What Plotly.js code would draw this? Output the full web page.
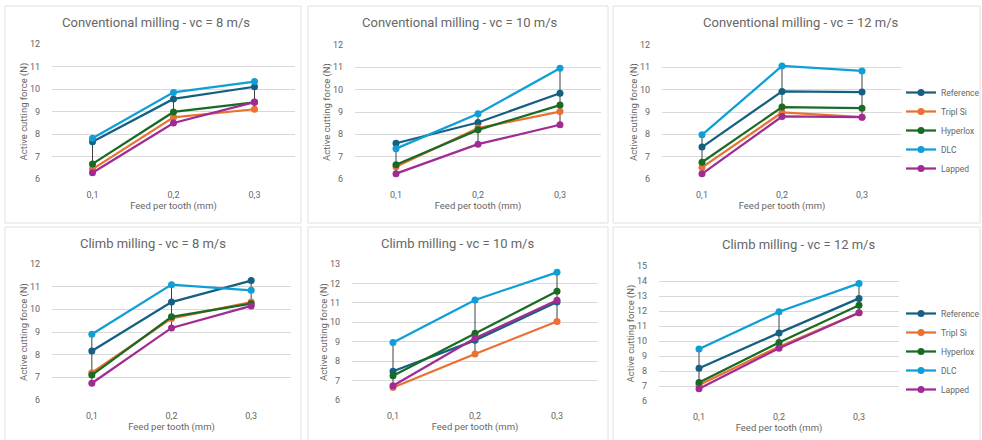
<!DOCTYPE html>
<html>
<head>
<meta charset="utf-8">
<script src="https://cdn.plot.ly/plotly-3.0.1.min.js"></script>
<style>
html,body{margin:0;padding:0;background:#fff;}
#chart{width:982px;height:440px;}
</style>
</head>
<body>
<div id="chart"></div>
<script>
// ---------- DATA ----------
const categories = ['0,1', '0,2', '0,3'];
const seriesNames = ['Reference', 'Tripl Si', 'Hyperlox', 'DLC', 'Lapped'];
const panelTitles = [
  'Conventional milling - vc = 8 m/s',
  'Conventional milling - vc = 10 m/s',
  'Conventional milling - vc = 12 m/s',
  'Climb milling - vc = 8 m/s',
  'Climb milling - vc = 10 m/s',
  'Climb milling - vc = 12 m/s'
];

// Conventional milling, vc = 8 m/s
const conv8_ref    = [7.66, 9.56, 10.10];
const conv8_tripl  = [6.44, 8.74, 9.10];
const conv8_hyper  = [6.67, 8.98, 9.41];
const conv8_dlc    = [7.81, 9.85, 10.33];
const conv8_lapped = [6.28, 8.49, 9.42];

// Conventional milling, vc = 10 m/s
const conv10_ref    = [7.60, 8.53, 9.84];
const conv10_tripl  = [6.55, 8.28, 9.02];
const conv10_hyper  = [6.64, 8.20, 9.31];
const conv10_dlc    = [7.36, 8.92, 10.96];
const conv10_lapped = [6.24, 7.56, 8.43];

// Conventional milling, vc = 12 m/s
const conv12_ref    = [7.43, 9.92, 9.89];
const conv12_tripl  = [6.52, 8.98, 8.77];
const conv12_hyper  = [6.75, 9.22, 9.17];
const conv12_dlc    = [7.98, 11.06, 10.84];
const conv12_lapped = [6.23, 8.80, 8.77];

// Climb milling, vc = 8 m/s
const climb8_ref    = [8.16, 10.32, 11.27];
const climb8_tripl  = [7.20, 9.60, 10.32];
const climb8_hyper  = [7.10, 9.67, 10.25];
const climb8_dlc    = [8.90, 11.09, 10.84];
const climb8_lapped = [6.74, 9.18, 10.15];

// Climb milling, vc = 10 m/s
const climb10_ref    = [7.48, 9.07, 11.04];
const climb10_tripl  = [6.64, 8.37, 10.04];
const climb10_hyper  = [7.25, 9.43, 11.60];
const climb10_dlc    = [8.96, 11.15, 12.57];
const climb10_lapped = [6.73, 9.18, 11.13];

// Climb milling, vc = 12 m/s
const climb12_ref    = [8.18, 10.54, 12.84];
const climb12_tripl  = [7.07, 9.62, 11.88];
const climb12_hyper  = [7.24, 9.90, 12.39];
const climb12_dlc    = [9.46, 11.95, 13.84];
const climb12_lapped = [6.82, 9.52, 11.88];

const yMaxima = [12, 12, 12, 12, 13, 15];

// ---------- STYLE / LAYOUT ----------
const W = 982, H = 440;
const colors = ['#156082', '#E97132', '#196B24', '#0F9ED5', '#A02B93'];
const FONT = 'Roboto, "Liberation Sans", Arial, sans-serif';
const GREY = '#666666';
const px = x => x / W;
const py = y => 1 - y / H;

const panelData = [
  [conv8_ref, conv8_tripl, conv8_hyper, conv8_dlc, conv8_lapped],
  [conv10_ref, conv10_tripl, conv10_hyper, conv10_dlc, conv10_lapped],
  [conv12_ref, conv12_tripl, conv12_hyper, conv12_dlc, conv12_lapped],
  [climb8_ref, climb8_tripl, climb8_hyper, climb8_dlc, climb8_lapped],
  [climb10_ref, climb10_tripl, climb10_hyper, climb10_dlc, climb10_lapped],
  [climb12_ref, climb12_tripl, climb12_hyper, climb12_dlc, climb12_lapped]
];

// plot areas in pixels: [left, right, top, bottom]
const plotAreas = [
  [52, 295, 44, 179],
  [355, 601, 45, 179],
  [662, 902, 45, 179],
  [52, 291, 264, 400],
  [352, 598, 264, 400],
  [659, 899, 266, 401]
];
// panel boxes: [left, right, top, bottom]
const boxes = [
  [5, 301, 6, 223],
  [308, 608, 6, 223],
  [613, 980, 6, 223],
  [5, 301, 227, 445],
  [308, 608, 227, 445],
  [613, 980, 227, 445]
];
const titlePos = [[156, 23], [460, 23], [801, 23], [153, 243], [457, 243], [798, 244]];

const traces = [];
const legendStyle = {
  xanchor: 'left', yanchor: 'top',
  font: {family: FONT, size: 8.5, color: GREY},
  bgcolor: 'rgba(0,0,0,0)', tracegroupgap: 0, itemwidth: 30
};
const layout = {
  width: W, height: H,
  margin: {l: 0, r: 0, t: 0, b: 0, autoexpand: false},
  paper_bgcolor: '#ffffff',
  plot_bgcolor: 'rgba(0,0,0,0)',
  font: {family: FONT, color: GREY, size: 9},
  shapes: [], annotations: [],
  hovermode: false,
  legend: Object.assign({x: px(901), y: py(78)}, legendStyle),
  legend2: Object.assign({x: px(901), y: py(299)}, legendStyle)
};

boxes.forEach(b => {
  layout.shapes.push({
    type: 'rect', xref: 'paper', yref: 'paper', layer: 'below',
    x0: px(b[0]), x1: px(b[1]), y0: py(b[3]), y1: py(b[2]),
    line: {color: '#E0E0E0', width: 1}, fillcolor: '#ffffff'
  });
});

panelData.forEach((series, i) => {
  const n = i + 1;
  const xa = 'x' + (n === 1 ? '' : n);
  const ya = 'y' + (n === 1 ? '' : n);
  const pa = plotAreas[i];

  // high-low lines (from min to max of the series at each category)
  const hx = [], hy = [];
  categories.forEach((c, k) => {
    const vals = series.map(s => s[k]);
    hx.push(c, c, null);
    hy.push(Math.min(...vals), Math.max(...vals), null);
  });
  traces.push({
    type: 'scatter', mode: 'lines', x: hx, y: hy, xaxis: xa, yaxis: ya,
    line: {color: '#404040', width: 1}, showlegend: false, hoverinfo: 'skip'
  });

  series.forEach((vals, s) => {
    const t = {
      type: 'scatter', mode: 'lines+markers',
      name: seriesNames[s], x: categories, y: vals,
      xaxis: xa, yaxis: ya,
      line: {color: colors[s], width: 2.25},
      marker: {color: colors[s], size: 7},
      showlegend: (i === 2 || i === 5)
    };
    if (i === 5) t.legend = 'legend2';
    traces.push(t);
  });

  layout['xaxis' + (n === 1 ? '' : n)] = {
    domain: [px(pa[0]), px(pa[1])], anchor: ya,
    type: 'category', range: [-0.5, 2.5],
    showgrid: false, zeroline: false, showline: false,
    ticks: '', ticklabelstandoff: 9,
    tickfont: {family: FONT, size: 9, color: GREY},
    title: {text: 'Feed per tooth (mm)', font: {family: FONT, size: 9.5, color: GREY}, standoff: 3},
    fixedrange: true
  };
  layout['yaxis' + (n === 1 ? '' : n)] = {
    domain: [py(pa[3]), py(pa[2])], anchor: xa,
    range: [6, yMaxima[i]], dtick: 1, tick0: 6,
    showgrid: true, gridcolor: '#D9D9D9', gridwidth: 1,
    zeroline: false, showline: false, ticks: '', ticklabelstandoff: 11,
    tickfont: {family: FONT, size: 9, color: GREY},
    title: {text: 'Active cutting force (N)', font: {family: FONT, size: 9.5, color: GREY}, standoff: 0},
    fixedrange: true
  };

  layout.annotations.push({
    text: panelTitles[i], xref: 'paper', yref: 'paper',
    x: px(titlePos[i][0]), y: py(titlePos[i][1]),
    xanchor: 'center', yanchor: 'middle', showarrow: false,
    font: {family: FONT, size: 13, color: GREY}
  });
});

Plotly.newPlot('chart', traces, layout, {displayModeBar: false, staticPlot: true});
</script>
</body>
</html>
